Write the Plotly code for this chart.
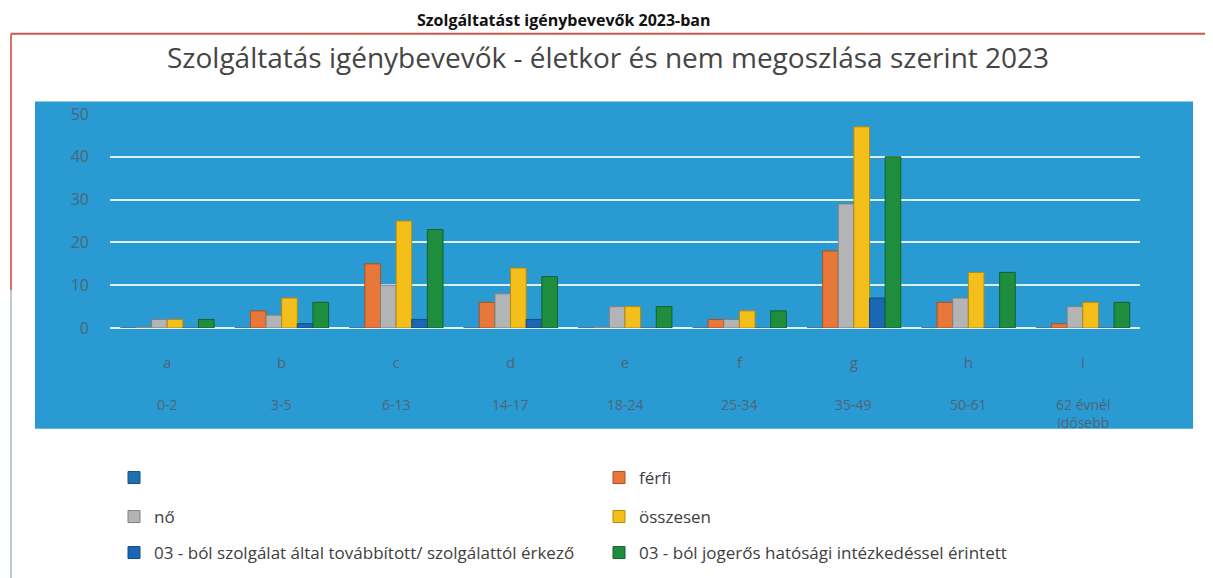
import plotly.graph_objects as go

# ---------------- data ----------------
letters = ["a", "b", "c", "d", "e", "f", "g", "h", "i"]
ages = ["0-2", "3-5", "6-13", "14-17", "18-24", "25-34", "35-49", "50-61", "62 évnél<br>idősebb"]

series_names = [
    "",
    "férfi",
    "nő",
    "összesen",
    "03 - ból szolgálat által továbbított/ szolgálattól érkező",
    "03 - ból jogerős hatósági intézkedéssel érintett",
]
blank = [0, 0, 0, 0, 0, 0, 0, 0, 0]
ferfi = [0, 4, 15, 6, 0, 2, 18, 6, 1]
no = [2, 3, 10, 8, 5, 2, 29, 7, 5]
osszesen = [2, 7, 25, 14, 5, 4, 47, 13, 6]
tovabbitott = [0, 1, 2, 2, 0, 0, 7, 0, 0]
jogeros = [2, 6, 23, 12, 5, 4, 40, 13, 6]
series_values = [blank, ferfi, no, osszesen, tovabbitott, jogeros]

title_text = "Szolgáltatás igénybevevők - életkor és nem megoszlása szerint 2023"
top_text = "Szolgáltatást igénybevevők 2023-ban"
y_ticks = [0, 10, 20, 30, 40, 50]

# ---------------- styling ----------------
colors = ["#1F6FB5", "#E8773A", "#B2B4B6", "#F5BF1B", "#1B67B4", "#1E8E3E"]
edge = ["#154f85", "#a9511f", "#7f8183", "#b48a0e", "#124b85", "#12612a"]
legend_of = ["legend", "legend", "legend2", "legend2", "legend3", "legend3"]

# the page body adds an 8px offset; work in screen pixels and compensate
OFF = 8
SW, SH = 1213, 578
FW, FH = SW - OFF, SH - OFF
L, R, T, B = 110, 1140, 113.5, 328   # plot area in screen pixels


def px(x):
    return (x - L) / (R - L)


def py(y):
    return (B - y) / (B - T)


def cx(x):
    return (x - OFF) / FW


def cy(y):
    return 1 - (y - OFF) / FH


FONT = "Open Sans"
tick_col = "#4C6676"

fig = go.Figure()
for name, vals, c, e, lg in zip(series_names, series_values, colors, edge, legend_of):
    fig.add_trace(go.Bar(
        x=letters, y=vals, name=name,
        marker=dict(color=c, line=dict(color=e, width=1)),
        legend=lg,
    ))

shapes = [
    # blue chart area
    dict(type="rect", xref="paper", yref="paper", x0=px(35), x1=px(1193), y0=py(429), y1=py(101),
         fillcolor="#2A9AD3", line=dict(width=0), layer="below"),
    # frame
    dict(type="line", xref="paper", yref="paper", x0=px(11), x1=px(1206), y0=py(33), y1=py(33),
         line=dict(color="#C65A4A", width=2)),
    dict(type="line", xref="paper", yref="paper", x0=px(11), x1=px(11), y0=py(33), y1=py(290),
         line=dict(color="#D0735F", width=2)),
    dict(type="line", xref="paper", yref="paper", x0=px(11), x1=px(11), y0=py(290), y1=py(600),
         line=dict(color="#B9C8D2", width=2)),
    dict(type="line", xref="paper", yref="paper", x0=px(1206), x1=px(1206), y0=py(33), y1=py(440),
         line=dict(color="#D99088", width=1.5)),
]

annotations = [
    dict(text=title_text, xref="paper", yref="paper", x=px(608), y=py(56), xanchor="center",
         yanchor="middle", showarrow=False, font=dict(family=FONT, size=28, color="#454545")),
    dict(text="<b>" + top_text + "</b>", xref="paper", yref="paper", x=px(564), y=py(19),
         xanchor="center", yanchor="middle", showarrow=False,
         font=dict(family=FONT, size=16, color="#111111")),
]
for lt, ag in zip(letters, ages):
    annotations.append(dict(text=ag, xref="x", yref="paper", x=lt, y=py(393), xanchor="center",
                            yanchor="top", showarrow=False,
                            font=dict(family=FONT, size=14, color=tick_col)))

leg_common = dict(orientation="h", xanchor="left", yanchor="middle", entrywidth=440,
                  entrywidthmode="pixels", bgcolor="rgba(0,0,0,0)", traceorder="normal",
                  xref="container", yref="container",
                  font=dict(family=FONT, size=17, color="#404040"), itemwidth=30)

fig.update_layout(
    width=FW, height=FH,
    margin=dict(l=L - OFF, r=SW - R, t=T - OFF, b=SH - B, pad=0, autoexpand=False),
    paper_bgcolor="white", plot_bgcolor="rgba(0,0,0,0)",
    barmode="group", bargap=0.18, bargroupgap=0,
    showlegend=True,
    legend=dict(leg_common, x=cx(114), y=cy(478)),
    legend2=dict(leg_common, x=cx(114), y=cy(517)),
    legend3=dict(leg_common, x=cx(114), y=cy(553)),
    shapes=shapes, annotations=annotations,
    xaxis=dict(type="category", range=[-0.5, 8.5], showgrid=False, zeroline=False, showline=False,
               ticks="", ticklabelstandoff=24,
               tickfont=dict(family=FONT, size=15, color=tick_col)),
    yaxis=dict(range=[0, 50], tickvals=y_ticks, showgrid=True, gridcolor="rgba(255,255,255,0.85)",
               gridwidth=2, zeroline=True, zerolinecolor="rgba(255,255,255,0.85)", zerolinewidth=2,
               showline=False, ticks="", ticklabelstandoff=20,
               tickfont=dict(family=FONT, size=16, color=tick_col)),
)

fig.write_html("out.html")
